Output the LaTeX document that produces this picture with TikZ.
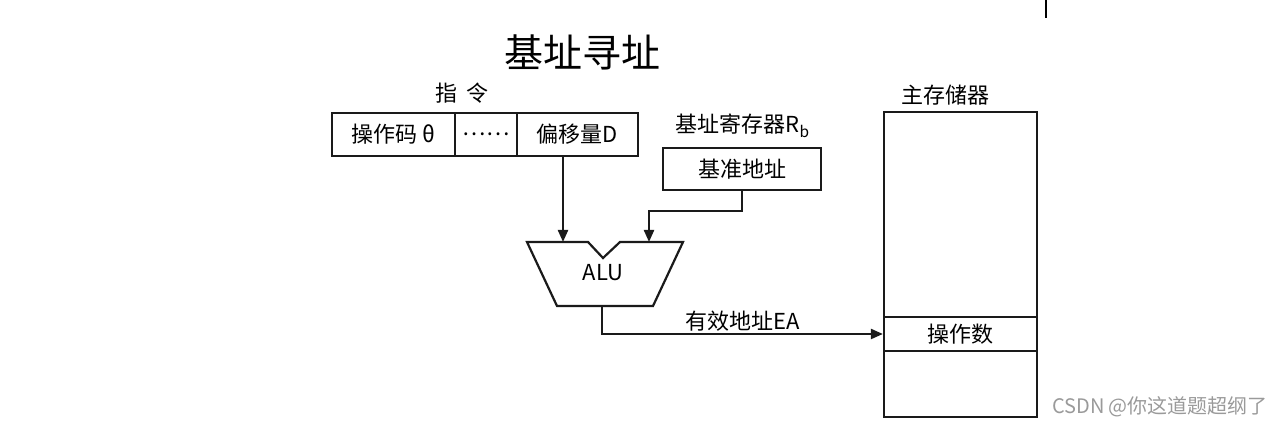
\documentclass[tikz,border=0pt]{standalone}
\usepackage{fontspec}
\setmainfont{Liberation Serif}
\newfontfamily\cjk{Noto Sans CJK SC}
\usetikzlibrary{arrows.meta,positioning,calc}
\definecolor{ink}{HTML}{1A1A1A}
\definecolor{wmgrey}{HTML}{9A9A9A}
\tikzset{
  cell/.style={draw=ink,inner sep=0pt,minimum height=21.5pt},
  feed/.style={draw=ink,-{Triangle[length=6pt,width=5pt]}},
  caption/.style={inner sep=1pt}
}

\begin{document}
\begin{tikzpicture}[x=0.5pt,y=-0.5pt,font=\cjk\fontsize{11}{13}\selectfont,line width=1.1pt]
  \useasboundingbox (0,0) rectangle (1280,426);
  % title and the stray mark at top right
  \node[caption,font=\cjk\fontsize{19.5}{22}\selectfont] (title) at (582,52) {基址寻址};
  \draw[line width=0.6pt] (1046,0) -- (1046,18);
  % instruction word
  \node[caption] (instr) at (462,93) {指\ \ 令};
  \node[cell,minimum width=61.5pt] (opc) at (393.5,134.5) {操作码 θ};
  \node[cell,minimum width=31pt] (dots) at (486,134.5) {……};
  \node[cell,minimum width=60.5pt] (off) at (577.5,134.5) {偏移量D};
  % base register
  \node[caption] (regname) at (743,126) {基址寄存器R\textsubscript{b}};
  \node[cell,minimum width=79pt,minimum height=21pt] (base) at (742,169) {基准地址};
  % ALU with its notch
  \draw[ink] (527,242) -- (588,242) -- (603,258) -- (620,242) -- (683,242)
    -- (653,306) -- (557,306) -- cycle;
  \node[caption] (alu) at (603,273) {ALU};
  \coordinate (aluL) at (563,242);
  \coordinate (aluR) at (649,242);
  \coordinate (aluO) at (602,306);
  \coordinate (bend) at (649,211);
  % main memory
  \node[caption] (memname) at (945,95) {主存储器};
  \node[cell,minimum width=76.5pt,minimum height=102.5pt] (memtop) at (960.5,214.5) {};
  \node[cell,minimum width=76.5pt,minimum height=17pt] (opnd) at (960.5,334) {操作数};
  \node[cell,minimum width=76.5pt,minimum height=33pt] (membot) at (960.5,384) {};
  % connectors
  \draw[feed] (aluL |- off.south) -- (aluL);
  \draw[feed] (base.south) |- (bend) -- (aluR);
  \draw[feed] (aluO) |- (opnd.west) node[pos=0.75,above,caption] (ea) {有效地址EA};
  % watermark
  \node[caption,text=wmgrey,font=\cjk\fontsize{10}{12}\selectfont] (wm) at (1160,407) {CSDN @你这道题超纲了};
\end{tikzpicture}
\end{document}
